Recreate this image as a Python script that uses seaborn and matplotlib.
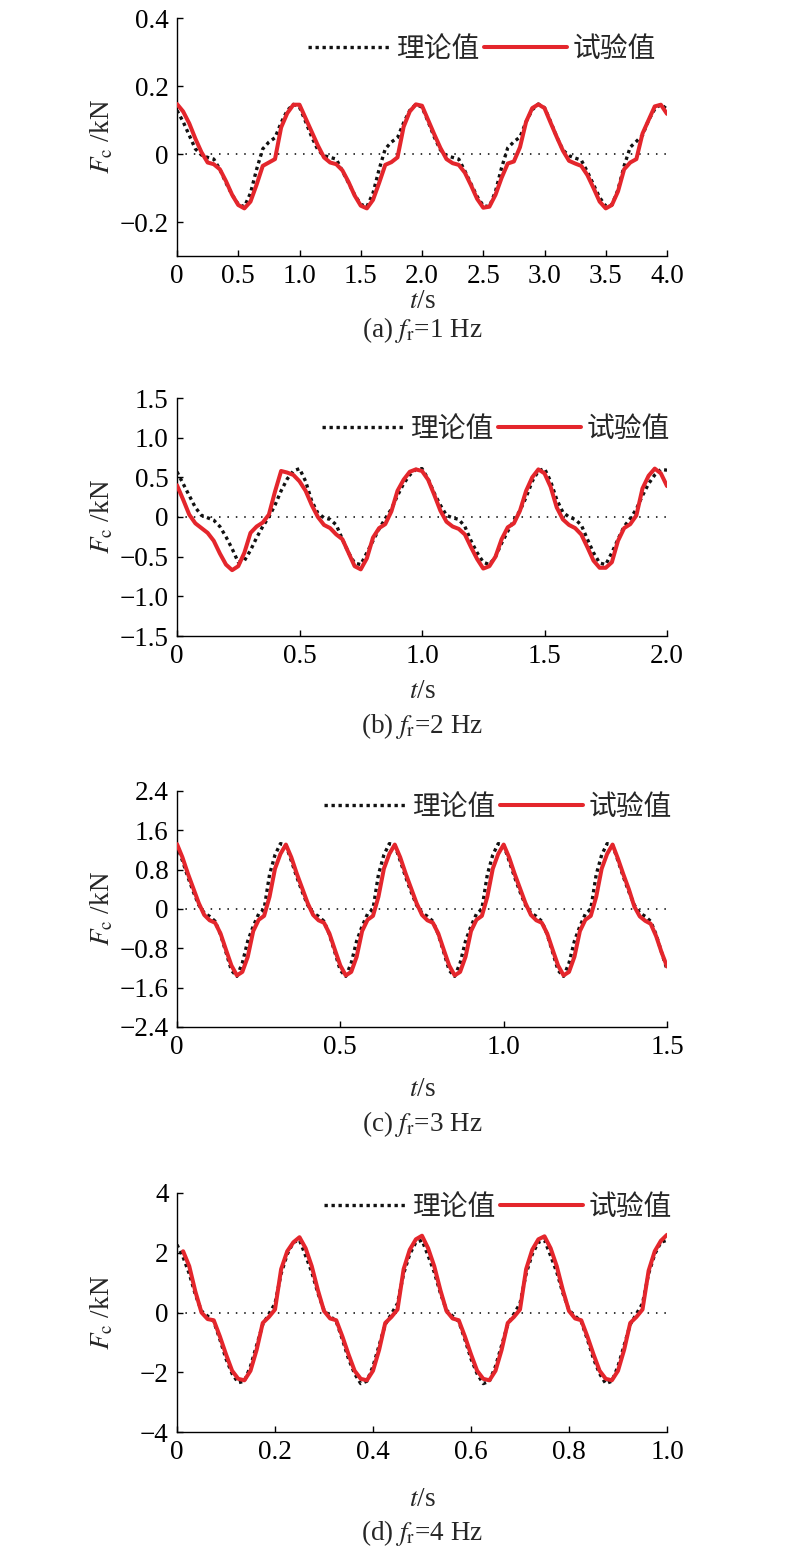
import numpy as np
import pandas as pd
import matplotlib
matplotlib.use("Agg")
import matplotlib.pyplot as plt
import seaborn as sns

# ---------------- data ----------------
# (a) fr = 1 Hz, t step 0.05 s
t_a = np.linspace(0, 4, 81)
theory_a = [
    0.128, 0.095, 0.055, 0.015, -0.003, -0.010, -0.015, -0.045, -0.085, -0.120, -0.148, -0.155, -0.115, -0.045, 0.015, 0.035, 0.048, 0.092, 0.128, 0.146,
    0.138, 0.095, 0.050, 0.012, -0.005, -0.010, -0.015, -0.050, -0.085, -0.120, -0.148, -0.155, -0.115, -0.045, 0.015, 0.035, 0.048, 0.092, 0.128, 0.146,
    0.138, 0.095, 0.050, 0.012, -0.005, -0.010, -0.015, -0.050, -0.088, -0.125, -0.152, -0.155, -0.110, -0.040, 0.018, 0.036, 0.050, 0.095, 0.130, 0.147,
    0.136, 0.095, 0.050, 0.012, -0.005, -0.012, -0.018, -0.052, -0.090, -0.128, -0.153, -0.150, -0.105, -0.035, 0.020, 0.037, 0.055, 0.100, 0.132, 0.146,
    0.132]
exp_a = [
    0.147, 0.125, 0.090, 0.045, 0.005, -0.025, -0.030, -0.045, -0.080, -0.120, -0.150, -0.160, -0.140, -0.090, -0.035, -0.025, -0.015, 0.078, 0.120, 0.145,
    0.145, 0.105, 0.065, 0.025, -0.010, -0.025, -0.030, -0.048, -0.082, -0.122, -0.152, -0.160, -0.135, -0.085, -0.032, -0.024, -0.010, 0.080, 0.125, 0.146,
    0.142, 0.100, 0.058, 0.018, -0.015, -0.027, -0.032, -0.055, -0.092, -0.132, -0.158, -0.155, -0.120, -0.070, -0.028, -0.022, 0.020, 0.095, 0.135, 0.146,
    0.135, 0.092, 0.050, 0.010, -0.020, -0.028, -0.035, -0.062, -0.100, -0.140, -0.160, -0.150, -0.110, -0.045, -0.025, -0.015, 0.060, 0.100, 0.140, 0.145,
    0.118]

# (b) fr = 2 Hz, t step 0.025 s
t_b = np.linspace(0, 2, 81)
theory_b = [
    0.57, 0.42, 0.27, 0.12, 0.02, -0.01, -0.04, -0.12, -0.25, -0.40, -0.57, -0.55, -0.42, -0.26, -0.12, 0.00, 0.15, 0.33, 0.48, 0.58,
    0.61, 0.45, 0.20, 0.05, -0.01, -0.03, -0.10, -0.28, -0.45, -0.58, -0.60, -0.45, -0.30, -0.15, -0.02, 0.10, 0.27, 0.42, 0.53, 0.60,
    0.61, 0.48, 0.30, 0.15, 0.02, -0.01, -0.03, -0.12, -0.30, -0.45, -0.57, -0.60, -0.50, -0.33, -0.18, -0.04, 0.08, 0.25, 0.45, 0.58,
    0.61, 0.45, 0.22, 0.06, 0.00, -0.03, -0.10, -0.28, -0.45, -0.58, -0.60, -0.45, -0.28, -0.12, -0.02, 0.10, 0.27, 0.42, 0.53, 0.60,
    0.59]
exp_b = [
    0.40, 0.22, 0.03, -0.08, -0.14, -0.20, -0.30, -0.46, -0.60, -0.67, -0.62, -0.45, -0.20, -0.12, -0.07, 0.03, 0.32, 0.58, 0.56, 0.53,
    0.45, 0.33, 0.15, 0.00, -0.10, -0.14, -0.22, -0.28, -0.45, -0.62, -0.66, -0.52, -0.26, -0.14, -0.09, 0.07, 0.33, 0.47, 0.57, 0.60,
    0.58, 0.47, 0.28, 0.08, -0.06, -0.12, -0.15, -0.22, -0.38, -0.53, -0.65, -0.62, -0.50, -0.28, -0.13, -0.08, 0.08, 0.33, 0.50, 0.60,
    0.55, 0.38, 0.12, -0.03, -0.10, -0.14, -0.22, -0.38, -0.55, -0.64, -0.64, -0.57, -0.30, -0.14, -0.09, 0.02, 0.36, 0.52, 0.61, 0.55,
    0.39]

# (c) fr = 3 Hz, t step 1/60 s
t_c = np.linspace(0, 1.5, 91)
theory_c = [
    1.30, 0.98, 0.65, 0.35, 0.08, -0.08, -0.15, -0.25, -0.52, -0.88, -1.25, -1.37, -1.10, -0.65, -0.35, -0.10, 0.00, 0.70, 1.10, 1.33,
    1.30, 0.98, 0.65, 0.35, 0.08, -0.08, -0.15, -0.25, -0.52, -0.88, -1.25, -1.37, -1.10, -0.65, -0.35, -0.10, 0.00, 0.70, 1.10, 1.33,
    1.30, 0.98, 0.65, 0.35, 0.08, -0.08, -0.15, -0.25, -0.52, -0.88, -1.25, -1.37, -1.10, -0.65, -0.35, -0.10, 0.00, 0.70, 1.10, 1.33,
    1.30, 0.98, 0.65, 0.35, 0.08, -0.08, -0.15, -0.25, -0.52, -0.88, -1.25, -1.37, -1.10, -0.65, -0.35, -0.10, 0.00, 0.70, 1.10, 1.33,
    1.30, 0.98, 0.65, 0.35, 0.08, -0.08, -0.15, -0.25, -0.52, -0.88, -1.23]
exp_c = [
    1.32, 1.05, 0.72, 0.42, 0.12, -0.12, -0.23, -0.28, -0.50, -0.83, -1.15, -1.35, -1.28, -0.97, -0.45, -0.22, -0.14, 0.25, 0.82, 1.12,
    1.31, 1.05, 0.72, 0.42, 0.12, -0.12, -0.23, -0.28, -0.50, -0.83, -1.15, -1.35, -1.28, -0.97, -0.45, -0.22, -0.14, 0.25, 0.82, 1.12,
    1.31, 1.05, 0.72, 0.42, 0.12, -0.12, -0.23, -0.28, -0.50, -0.83, -1.15, -1.35, -1.28, -0.97, -0.45, -0.22, -0.14, 0.25, 0.82, 1.12,
    1.31, 1.05, 0.72, 0.42, 0.12, -0.12, -0.23, -0.28, -0.50, -0.83, -1.15, -1.35, -1.28, -0.97, -0.45, -0.22, -0.14, 0.25, 0.82, 1.12,
    1.31, 1.02, 0.70, 0.40, 0.05, -0.15, -0.24, -0.30, -0.55, -0.88, -1.17]

# (d) fr = 4 Hz, t step 0.0125 s
t_d = np.linspace(0, 1, 81)
theory_d = [
    2.27, 1.85, 1.30, 0.60, 0.05, -0.12, -0.30, -0.90, -1.55, -2.05, -2.35, -2.30, -1.80, -1.10, -0.40, -0.05, 0.30, 1.30, 1.95, 2.35,
    2.42, 1.90, 1.35, 0.65, 0.08, -0.12, -0.30, -0.90, -1.55, -2.05, -2.38, -2.30, -1.80, -1.10, -0.40, -0.05, 0.30, 1.30, 1.95, 2.35,
    2.42, 1.90, 1.35, 0.65, 0.08, -0.12, -0.30, -0.90, -1.55, -2.05, -2.38, -2.30, -1.80, -1.10, -0.40, -0.05, 0.30, 1.30, 1.95, 2.35,
    2.42, 1.90, 1.35, 0.65, 0.08, -0.12, -0.30, -0.90, -1.55, -2.05, -2.38, -2.30, -1.80, -1.10, -0.40, -0.05, 0.30, 1.30, 1.95, 2.35,
    2.42]
exp_d = [
    np.nan, 2.05, 1.55, 0.70, 0.00, -0.22, -0.26, -0.80, -1.40, -1.95, -2.22, -2.27, -1.95, -1.25, -0.35, -0.15, 0.10, 1.45, 2.05, 2.35,
    2.52, 2.15, 1.55, 0.75, 0.05, -0.20, -0.26, -0.80, -1.40, -1.95, -2.22, -2.27, -1.95, -1.25, -0.35, -0.15, 0.10, 1.45, 2.10, 2.45,
    2.57, 2.15, 1.55, 0.75, 0.05, -0.20, -0.26, -0.80, -1.40, -1.95, -2.22, -2.27, -1.95, -1.25, -0.35, -0.15, 0.10, 1.45, 2.10, 2.45,
    2.55, 2.15, 1.55, 0.75, 0.05, -0.20, -0.26, -0.80, -1.40, -1.95, -2.22, -2.27, -1.95, -1.25, -0.35, -0.15, 0.10, 1.40, 2.05, 2.40,
    2.60]

series_names = ["理论值", "试验值"]
captions = ["(a)", "(b)", "(c)", "(d)"]
freqs = ["1", "2", "3", "4"]

x_ticks = [[0, 0.5, 1.0, 1.5, 2.0, 2.5, 3.0, 3.5, 4.0],
           [0, 0.5, 1.0, 1.5, 2.0],
           [0, 0.5, 1.0, 1.5],
           [0, 0.2, 0.4, 0.6, 0.8, 1.0]]
x_labels = [["0", "0.5", "1.0", "1.5", "2.0", "2.5", "3.0", "3.5", "4.0"],
            ["0", "0.5", "1.0", "1.5", "2.0"],
            ["0", "0.5", "1.0", "1.5"],
            ["0", "0.2", "0.4", "0.6", "0.8", "1.0"]]
y_ticks = [[-0.2, 0, 0.2, 0.4],
           [-1.5, -1.0, -0.5, 0, 0.5, 1.0, 1.5],
           [-2.4, -1.6, -0.8, 0, 0.8, 1.6, 2.4],
           [-4, -2, 0, 2, 4]]
y_labels = [["\u22120.2", "0", "0.2", "0.4"],
            ["\u22121.5", "\u22121.0", "\u22120.5", "0", "0.5", "1.0", "1.5"],
            ["\u22122.4", "\u22121.6", "\u22120.8", "0", "0.8", "1.6", "2.4"],
            ["\u22124", "\u22122", "0", "2", "4"]]
y_lims = [(-0.3, 0.4), (-1.5, 1.5), (-2.4, 2.4), (-4, 4)]
x_lims = [(0, 4), (0, 2), (0, 1.5), (0, 1)]

panels = [(t_a, theory_a, exp_a), (t_b, theory_b, exp_b),
          (t_c, theory_c, exp_c), (t_d, theory_d, exp_d)]

# ---------------- style ----------------
sns.set_style("ticks")
plt.rcParams["font.family"] = ["Liberation Serif", "Noto Sans CJK SC"]
plt.rcParams["mathtext.fontset"] = "stix"
plt.rcParams["axes.unicode_minus"] = True

RED = "#e4262c"
W, H = 800, 1560
FS = 19.5
fig = plt.figure(figsize=(W / 100, H / 100), dpi=100)

# axes pixel boxes: (top, bottom)
boxes = [(18, 256), (398, 636), (791, 1027), (1193, 1432)]
left_px, right_px = 177, 667
xlabel_y = [302, 691, 1090, 1500]
cap_y = [330, 726, 1124, 1533]
leg_y = [50, 430, 808, 1208]
leg_right = [656, 670, 672, 672]

for i, (t, th, ex) in enumerate(panels):
    top, bot = boxes[i]
    ax = fig.add_axes([left_px / W, 1 - bot / H, (right_px - left_px) / W, (bot - top) / H])
    df_th = pd.DataFrame({"t": t, "F": th})
    df_ex = pd.DataFrame({"t": t, "F": ex})
    ax.axhline(0, color="black", lw=1.1, ls=(0, (1, 4.5)), zorder=1)
    sns.lineplot(data=df_th, x="t", y="F", ax=ax, color="#111111", lw=2.4,
                 label=series_names[0], zorder=3)
    ax.lines[-1].set_linestyle((0, (1, 1.1)))
    sns.lineplot(data=df_ex, x="t", y="F", ax=ax, color=RED, lw=2.9,
                 label=series_names[1], zorder=4)
    ax.lines[-1].set_solid_joinstyle("round")
    ax.lines[-1].set_solid_capstyle("round")
    ax.set_xlim(*x_lims[i])
    ax.set_ylim(*y_lims[i])
    ax.set_xticks(x_ticks[i])
    ax.set_xticklabels(x_labels[i])
    ax.set_yticks(y_ticks[i])
    ax.set_yticklabels(y_labels[i])
    sns.despine(ax=ax)
    for s in ["left", "bottom"]:
        ax.spines[s].set_linewidth(1.0)
        ax.spines[s].set_color("black")
    ax.tick_params(direction="in", length=4.5, width=1.0, labelsize=FS,
                   pad=6, colors="black")
    ax.set_xlabel("")
    ax.set_ylabel(r"$F_{\mathrm{c}}$ /kN", fontsize=FS)
    ax.yaxis.set_label_coords(-62 / (right_px - left_px), 0.5)

    ax.legend(loc="center right",
              bbox_to_anchor=((leg_right[i] - left_px) / (right_px - left_px),
                              (bot - leg_y[i]) / (bot - top)),
              ncol=2, frameon=False, fontsize=20, handlelength=3.0,
              handletextpad=0.2, columnspacing=0.15, borderpad=0,
              borderaxespad=0)

    fig.text((left_px + right_px) / 2 / W, 1 - xlabel_y[i] / H, r"$t$/s",
             ha="center", va="center", fontsize=FS)
    fig.text((left_px + right_px) / 2 / W, 1 - cap_y[i] / H,
             captions[i] + r" $f_{\mathrm{r}}$=" + freqs[i] + " Hz",
             ha="center", va="center", fontsize=FS)

fig.savefig("out.png", dpi=100)
